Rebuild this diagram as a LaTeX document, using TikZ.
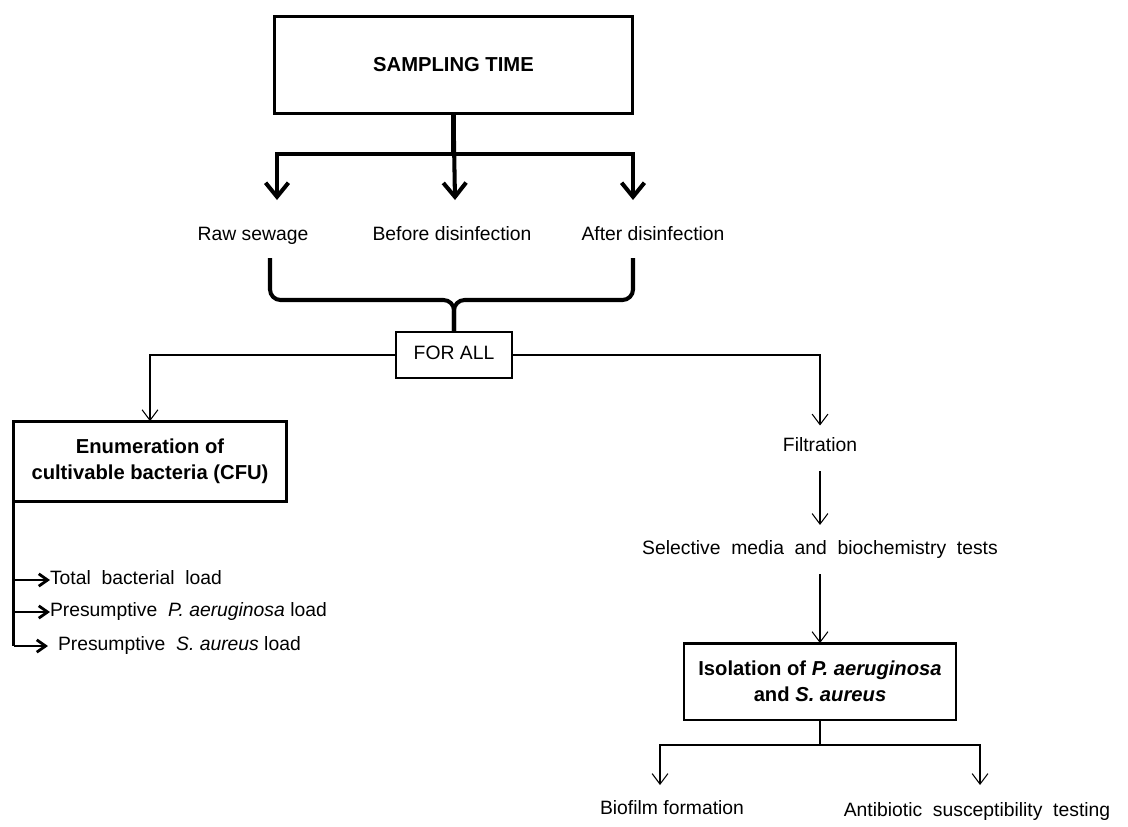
\documentclass[tikz,border=0pt]{standalone}
\usepackage{fontspec}
\setmainfont{Liberation Sans}
\usetikzlibrary{arrows.meta}

\begin{document}
\begin{tikzpicture}[x=0.02cm, y=-0.02cm]
\tikzset{ >={Straight Barb[length=6pt,width=9pt]}, inner sep=0pt, outer sep=0pt }
\tikzset{
  bigbox/.style={draw, line width=1.6pt, align=center, font=\fontsize{11.5}{15}\selectfont\bfseries},
  txt/.style={font=\fontsize{11}{13}\selectfont, text height=8pt, text depth=2.5pt},
  thin/.style={line width=0.6pt},
  heavy/.style={line width=2.3pt, >={Straight Barb[length=8pt,width=13pt]}},
}
\useasboundingbox (0,0) rectangle (1128,826);
%\draw [lightgray, dashed](0,0) grid[step=50] (1128,826);

\node [bigbox, minimum width=203.5pt, minimum height=55.6pt] (ST) at (453.5,65) {SAMPLING TIME};

\node [txt] (RS) at (253,236) {Raw sewage};
\node [txt] (BD) at (452,236) {Before disinfection};
\node [txt] (AD) at (653,236) {After disinfection};

\coordinate (A1) at (277,200);
\coordinate (A2) at (455,200);
\coordinate (A3) at (633,200);
\coordinate (B1) at (270,258);
\coordinate (B2) at (633,258);

\node [draw, line width=1.1pt, minimum width=65.8pt, minimum height=26pt, txt] (FA) at (454,355) {FOR ALL};

\node [bigbox, minimum width=155.3pt, minimum height=45.9pt] (EN) at (150,461.5) {Enumeration of\\cultivable bacteria (CFU)};

\node [txt, anchor=west] (L1) at (50,580) {Total \ bacterial \ load};
\node [txt, anchor=west] (L2) at (50,612) {Presumptive \ \textit{P. aeruginosa} load};
\node [txt, anchor=west] (L3) at (58,646) {Presumptive \ \textit{S. aureus} load};

\node [txt] (FI) at (820,447) {Filtration};
\node [txt] (SM) at (820,550) {Selective \ media \ and \ biochemistry \ tests};

\node [bigbox, minimum width=154.8pt, minimum height=43.7pt] (IS) at (820,681.5) {Isolation of \textit{P. aeruginosa}\\and \textit{S. aureus}};

\node [txt] (BF) at (672,810) {Biofilm formation};
\node [txt] (AS) at (977,812) {Antibiotic \ susceptibility \ testing};

\coordinate (C1) at (660,785);
\coordinate (C2) at (980,785);

% sampling points
\draw [heavy, ->] (ST.south) |- (A1 |- 0,154) -- (A1);
\draw [heavy, ->] (ST.south) |- (A3 |- 0,154) -- (A3);
\draw [heavy, ->] (ST.south) -- (A2);

\draw [heavy, rounded corners=6pt] (B1) -- (B1 |- 0,300) -- (FA.north |- 0,300) -- (FA.north);
\draw [heavy, rounded corners=6pt] (B2) -- (B2 |- 0,300) -- (FA.north |- 0,300) -- (FA.north);

% two branches
\draw [thin, ->] (FA.west) -| (EN.north);
\draw [thin, ->, shorten >=7pt] (FA.east) -| (FI.north);
\draw [thin, ->, shorten <=8.5pt, shorten >=9pt] (FI.south) -- (SM.north);
\draw [thin, ->, shorten <=8.5pt] (SM.south) -- (IS.north);

\draw [thin, ->] (IS.south) |- (C1 |- 0,745) -- (C1);
\draw [thin, ->] (IS.south) |- (C2 |- 0,745) -- (C2);

% loads
\draw [line width=1.6pt] (EN.south west) -- (EN.south west |- L3.west);
\draw [line width=1.6pt, ->, >={Straight Barb[length=5pt,width=7pt]}] (EN.south west |- L1.west) -- (L1.west);
\draw [line width=1.6pt, ->, >={Straight Barb[length=5pt,width=7pt]}] (EN.south west |- L2.west) -- (L2.west);
\draw [line width=1.6pt, ->, >={Straight Barb[length=5pt,width=7pt]}, shorten >=5.7pt] (EN.south west |- L3.west) -- (L3.west);

\end{tikzpicture}
\end{document}
